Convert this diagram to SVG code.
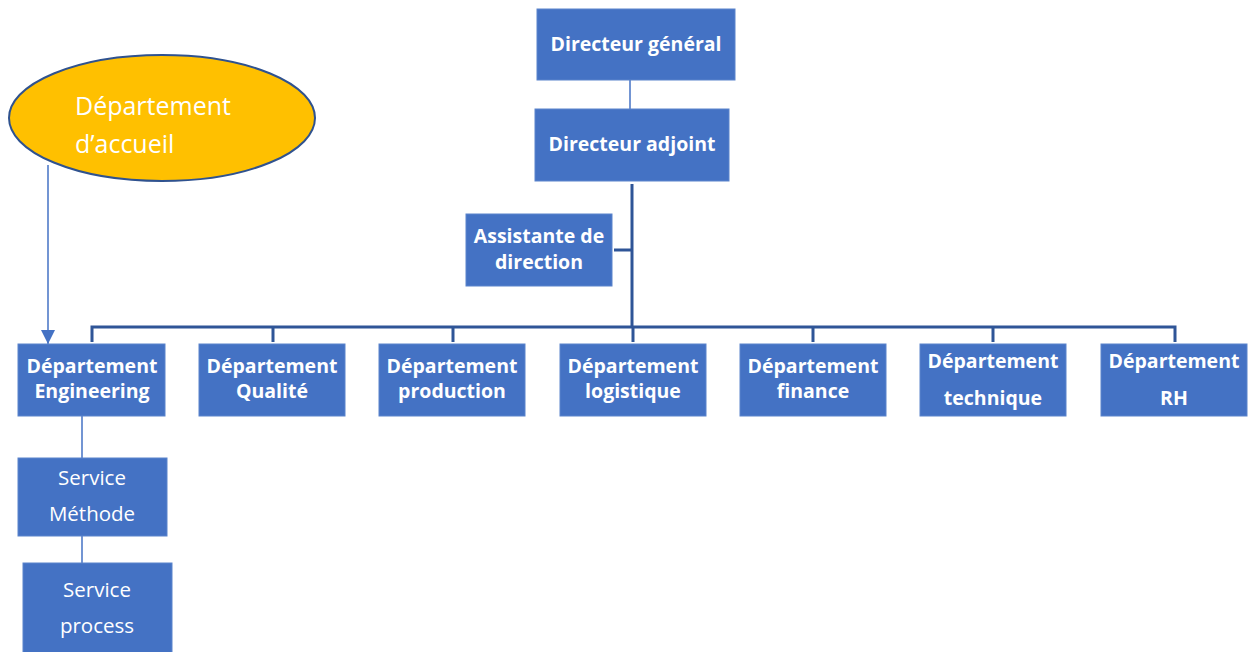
<svg xmlns="http://www.w3.org/2000/svg" width="1249" height="652" viewBox="0 0 1249 652">
<style>
.box{fill:#4472C4;stroke:#5B84CC;stroke-width:1}
.b{font-family:"Open Sans","Noto Sans","Liberation Sans",sans-serif;font-weight:bold;font-size:19.5px;fill:#fff;text-anchor:middle}
.n{font-family:"Open Sans","Noto Sans","Liberation Sans",sans-serif;font-size:20.5px;fill:#fff;text-anchor:middle}
.thick{stroke:#2F5597;stroke-width:3;fill:none}
.thin{stroke:#4472C4;stroke-width:1.5;fill:none}
</style>
<defs>
<marker id="arr" viewBox="0 0 14 14" refX="14" refY="7" markerWidth="14" markerHeight="14" orient="auto" markerUnits="userSpaceOnUse">
<path d="M0,0 L14,7 L0,14 z" fill="#4472C4"/>
</marker>
</defs>
<g id="connectors">
<line class="thin" x1="630" y1="80" x2="630" y2="109"/>
<line class="thick" x1="632" y1="184" x2="632" y2="327"/>
<line class="thick" x1="614" y1="250" x2="632" y2="250"/>
<polyline class="thick" points="92,342 92,327 1175,327 1175,342"/>
<line class="thick" x1="273" y1="327" x2="273" y2="342"/>
<line class="thick" x1="453" y1="327" x2="453" y2="342"/>
<line class="thick" x1="633" y1="327" x2="633" y2="342"/>
<line class="thick" x1="813" y1="327" x2="813" y2="342"/>
<line class="thick" x1="993" y1="327" x2="993" y2="342"/>
<line class="thin" x1="48" y1="165" x2="48" y2="344" marker-end="url(#arr)"/>
<line class="thin" x1="82" y1="416" x2="82" y2="458"/>
<line class="thin" x1="82" y1="536" x2="82" y2="563"/>
</g>
<g id="dg"><rect class="box" x="537" y="9" width="198" height="71"/><text class="b" x="636" y="51">Directeur général</text></g>
<g id="da"><rect class="box" x="535" y="109" width="194" height="72"/><text class="b" x="632" y="151">Directeur adjoint</text></g>
<g id="assistante"><rect class="box" x="466" y="214" width="146" height="72"/><text class="b" x="539" y="243">Assistante de</text><text class="b" x="539" y="269">direction</text></g>
<g id="accueil"><ellipse cx="162" cy="118" rx="153" ry="63" fill="#FFC000" stroke="#2F528F" stroke-width="2"/><text x="75" y="115" font-family="'Open Sans','Noto Sans',sans-serif" font-size="25" fill="#fff">Département</text><text x="75" y="153" font-family="'Open Sans','Noto Sans',sans-serif" font-size="25" fill="#fff">d’accueil</text></g>
<g id="engineering"><rect class="box" x="18" y="344" width="147" height="72"/><text class="b" x="92" y="373">Département</text><text class="b" x="92" y="398">Engineering</text></g>
<g id="qualite"><rect class="box" x="199" y="344" width="146" height="72"/><text class="b" x="272" y="373">Département</text><text class="b" x="272" y="398">Qualité</text></g>
<g id="production"><rect class="box" x="379" y="344" width="146" height="72"/><text class="b" x="452" y="373">Département</text><text class="b" x="452" y="398">production</text></g>
<g id="logistique"><rect class="box" x="560" y="344" width="146" height="72"/><text class="b" x="633" y="373">Département</text><text class="b" x="633" y="398">logistique</text></g>
<g id="finance"><rect class="box" x="740" y="344" width="146" height="72"/><text class="b" x="813" y="373">Département</text><text class="b" x="813" y="398">finance</text></g>
<g id="technique"><rect class="box" x="920" y="344" width="146" height="72"/><text class="b" x="993" y="368">Département</text><text class="b" x="993" y="405">technique</text></g>
<g id="rh"><rect class="box" x="1101" y="344" width="146" height="72"/><text class="b" x="1174" y="368">Département</text><text class="b" x="1174" y="405">RH</text></g>
<g id="methode"><rect class="box" x="18" y="458" width="149" height="78"/><text class="n" x="92" y="485">Service</text><text class="n" x="92" y="521">Méthode</text></g>
<g id="process"><rect class="box" x="23" y="563" width="149" height="95"/><text class="n" x="97" y="597">Service</text><text class="n" x="97" y="633">process</text></g>
</svg>
